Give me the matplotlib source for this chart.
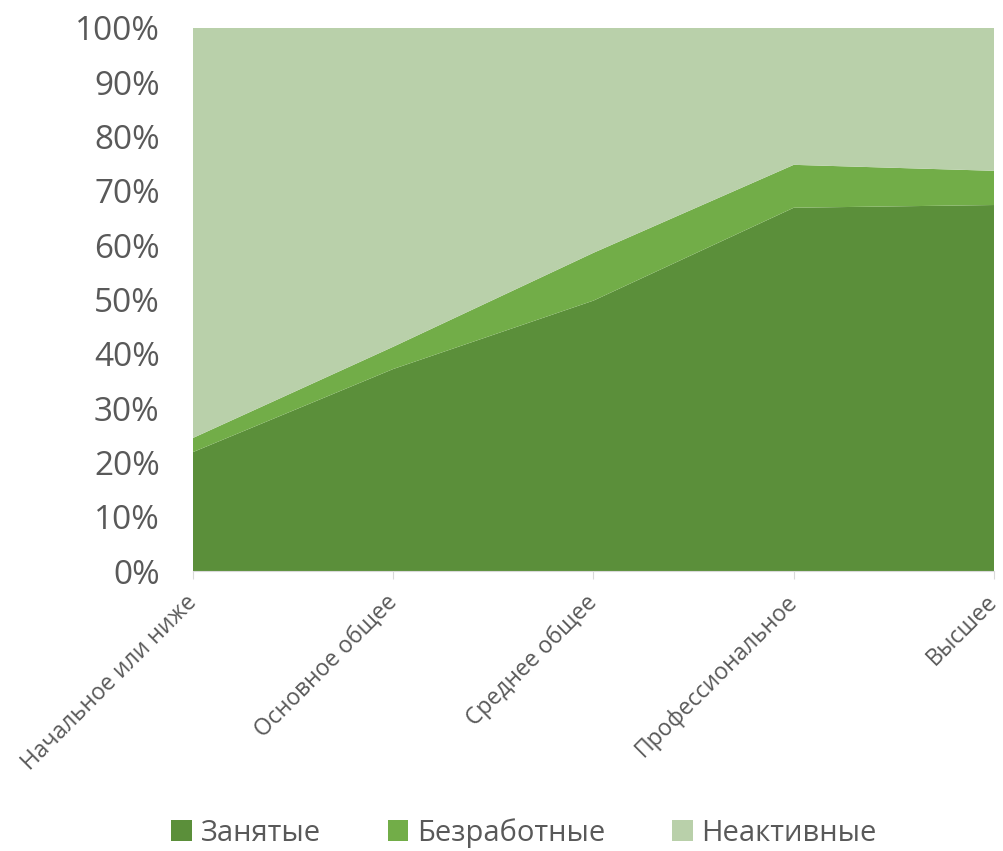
import matplotlib
matplotlib.use("Agg")
import matplotlib.pyplot as plt
from matplotlib.ticker import PercentFormatter

# data (shares, %)
categories = ["Начальное или ниже", "Основное общее", "Среднее общее",
              "Профессиональное", "Высшее"]
employed = [21.9, 37.2, 49.8, 66.9, 67.4]
unemployed = [2.6, 4.1, 8.8, 7.9, 6.3]
inactive = [100 - e - u for e, u in zip(employed, unemployed)]
series_names = ["Занятые", "Безработные", "Неактивные"]
colors = ["#5b8f3a", "#72ad48", "#b9d0aa"]

plt.rcParams['font.family'] = ['Open Sans', 'DejaVu Sans']

fig = plt.figure(figsize=(10.04, 8.51), dpi=100)
ax = fig.add_axes([193 / 1004, 1 - 571 / 851, (994 - 193) / 1004, (571 - 28) / 851])

x = list(range(len(categories)))
ax.stackplot(x, employed, unemployed, inactive, colors=colors,
             labels=series_names, linewidth=0)

ax.set_xlim(0, len(categories) - 1)
ax.set_ylim(0, 100)
ax.set_yticks(range(0, 101, 10))
ax.yaxis.set_major_formatter(PercentFormatter(decimals=0))
ax.tick_params(axis='y', length=0, labelsize=24, labelcolor='#595959', pad=24)

ax.set_xticks(x)
ax.set_xticklabels(categories, rotation=45, ha='right', va='center',
                   rotation_mode='anchor')
ax.tick_params(axis='x', length=6, color='#d9d9d9', labelsize=16.5,
               labelcolor='#595959', pad=14)

for side in ['top', 'right', 'left']:
    ax.spines[side].set_visible(False)
ax.spines['bottom'].set_color('#d9d9d9')

handles, labels = ax.get_legend_handles_labels()
fig.legend(handles, labels, loc='center', bbox_to_anchor=(0.522, 1 - 833 / 851),
           ncol=3, frameon=False, fontsize=21, labelcolor='#595959',
           handlelength=0.7, handleheight=0.7, handletextpad=0.3,
           columnspacing=2.3)

fig.savefig("out.png", dpi=100)
